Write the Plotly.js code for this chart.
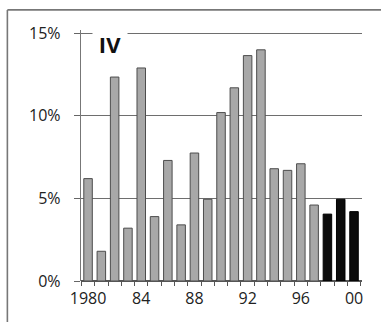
<!DOCTYPE html>
<html>
<head>
<meta charset="utf-8">
<script src="https://cdn.plot.ly/plotly-3.0.1.min.js"></script>
<style>html,body{margin:0;padding:0;background:#fff;}#chart{width:381px;height:322px;}</style>
</head>
<body>
<div id="chart"></div>
<script>
// Data
var grayYears = [1980,1981,1982,1983,1984,1985,1986,1987,1988,1989,1990,1991,1992,1993,1994,1995,1996,1997];
var grayValues = [6.2,1.8,12.35,3.2,12.9,3.9,7.3,3.4,7.75,4.95,10.2,11.7,13.65,14.0,6.8,6.7,7.1,4.6];
var blackYears = [1998,1999,2000];
var blackValues = [4.05,4.95,4.2];
var tickYears = [1980,1984,1988,1992,1996,2000];
var tickLabels = ["1980","84","88","92","96","00"];
var yTicks = [0,5,10,15];
var yTickLabels = ["0%","5%","10%","15%"];
var panelLabel = "IV";

var font = "Open Sans, Noto Sans, DejaVu Sans, sans-serif";
var traces = [
  {type:'bar', x:grayYears, y:grayValues, width:0.64,
   marker:{color:'#a8a8a8', line:{color:'#4d4d4d', width:1}}, hoverinfo:'none'},
  {type:'bar', x:blackYears, y:blackValues, width:0.64,
   marker:{color:'#0b0b0b', line:{color:'#000', width:1}}, hoverinfo:'none'}
];
var layout = {
  width:381, height:322,
  margin:{l:81, r:19, t:30, b:41},
  paper_bgcolor:'#fff', plot_bgcolor:'#fff',
  showlegend:false, barmode:'overlay',
  font:{family:font, color:'#222', size:16},
  xaxis:{
    range:[1979.47, 2000.6], tickmode:'array', tickvals:tickYears, ticktext:tickLabels,
    ticks:'', showgrid:false, zeroline:false, showline:false,
    ticklabelstandoff:6,
    tickfont:{family:font, size:16, color:'#222'},
    minor:{tick0:1979.5, dtick:1, ticks:'outside', ticklen:4, tickcolor:'#555', tickwidth:1, showgrid:false}
  },
  yaxis:{
    range:[0,15.2], tickmode:'array', tickvals:yTicks, ticktext:yTickLabels,
    ticks:'outside', ticklen:6, tickcolor:'#666', tickwidth:1,
    showgrid:true, gridcolor:'#6e6e6e', gridwidth:1,
    zeroline:true, zerolinecolor:'#555', zerolinewidth:1.2,
    showline:true, linecolor:'#777', linewidth:1.2,
    ticklabelstandoff:10,
    tickfont:{family:font, size:16, color:'#222'}
  },
  annotations:[{
    text:'<b>'+panelLabel+'</b>', xref:'paper', yref:'paper', x:0.103, y:0.946,
    xanchor:'center', yanchor:'middle', showarrow:false, bgcolor:'#fff',
    width:34, borderpad:0, font:{family:font, size:22, color:'#111'}
  }],
  shapes:[
    {type:'line', xref:'paper', yref:'paper', x0:-0.262, x1:1.07, y0:1.08, y1:1.08, line:{color:'#777', width:1.6}},
    {type:'line', xref:'paper', yref:'paper', x0:-0.262, x1:-0.262, y0:1.08, y1:-0.17, line:{color:'#777', width:1.6}}
  ]
};
Plotly.newPlot('chart', traces, layout, {staticPlot:true, displayModeBar:false});
</script>
</body>
</html>
